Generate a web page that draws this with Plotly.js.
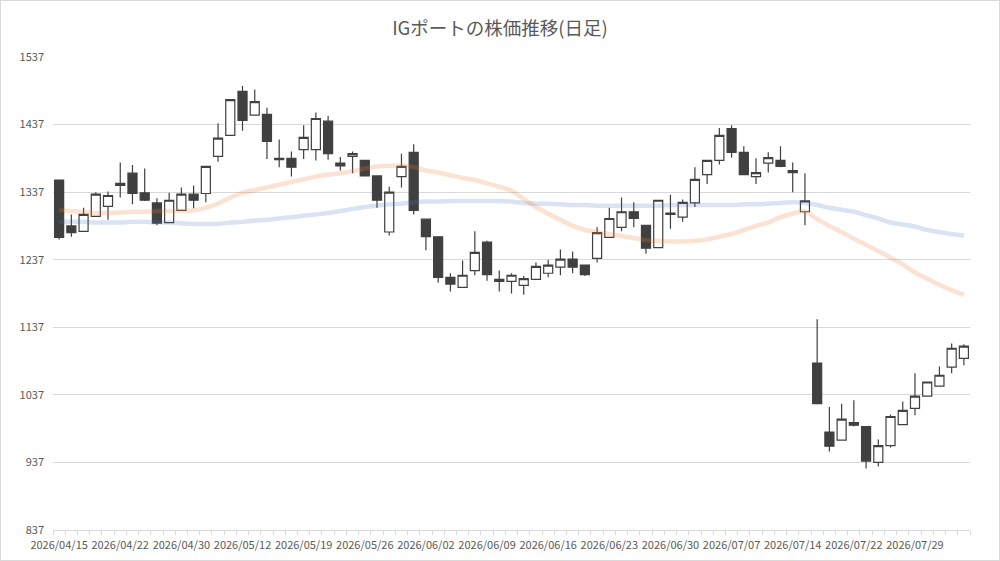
<!DOCTYPE html>
<html>
<head>
<meta charset="utf-8">
<script src="https://cdn.plot.ly/plotly-3.0.1.min.js"></script>
<style>
  html, body { margin: 0; padding: 0; background: #fff; }
  #chart { width: 998px; height: 559px; border: 1px solid #d9d9d9; }
</style>
</head>
<body>
<div id="chart"></div>
<script>
// ---- data ----
const dates = [
  "2026/04/15","2026/04/16","2026/04/17","2026/04/20","2026/04/21","2026/04/22","2026/04/23","2026/04/24","2026/04/27","2026/04/28",
  "2026/04/30","2026/05/01","2026/05/07","2026/05/08","2026/05/11","2026/05/12","2026/05/13","2026/05/14","2026/05/15","2026/05/18",
  "2026/05/19","2026/05/20","2026/05/21","2026/05/22","2026/05/25","2026/05/26","2026/05/27","2026/05/28","2026/05/29","2026/06/01",
  "2026/06/02","2026/06/03","2026/06/04","2026/06/05","2026/06/08","2026/06/09","2026/06/10","2026/06/11","2026/06/12","2026/06/15",
  "2026/06/16","2026/06/17","2026/06/18","2026/06/19","2026/06/22","2026/06/23","2026/06/24","2026/06/25","2026/06/26","2026/06/29",
  "2026/06/30","2026/07/01","2026/07/02","2026/07/03","2026/07/06","2026/07/07","2026/07/08","2026/07/09","2026/07/10","2026/07/13",
  "2026/07/14","2026/07/15","2026/07/16","2026/07/17","2026/07/21","2026/07/22","2026/07/23","2026/07/24","2026/07/27","2026/07/28",
  "2026/07/29","2026/07/30","2026/07/31","2026/08/03","2026/08/04"
];

const openP = [
  1355,1287,1279,1301,1316,1350,1365,1336,1321,1292,
  1310,1334,1335,1390,1421,1486,1451,1452,1387,1387,
  1400,1400,1442,1380,1390,1384,1361,1278,1360,1396,
  1297,1271,1211,1196,1221,1263,1208,1205,1199,1208,
  1217,1226,1238,1229,1239,1270,1285,1308,1288,1255,
  1304,1300,1321,1363,1384,1431,1396,1360,1380,1384,
  1369,1308,1084,982,970,996,990,937,962,993,
  1017,1035,1050,1078,1091
];
const highP = [
  1355,1304,1314,1337,1338,1381,1377,1372,1328,1336,
  1344,1347,1375,1439,1474,1494,1489,1462,1415,1397,
  1436,1455,1450,1389,1397,1384,1361,1345,1394,1408,
  1297,1271,1217,1236,1279,1265,1221,1217,1213,1233,
  1237,1252,1249,1229,1285,1314,1329,1322,1288,1325,
  1333,1326,1374,1384,1432,1436,1405,1387,1396,1405,
  1381,1365,1149,1019,1024,1029,990,971,1008,1027,
  1069,1056,1079,1113,1112
];
const lowP = [
  1267,1271,1279,1301,1296,1329,1319,1324,1288,1292,
  1310,1313,1322,1382,1421,1428,1451,1386,1374,1360,
  1386,1384,1385,1369,1365,1360,1314,1273,1344,1304,
  1251,1203,1190,1196,1214,1206,1190,1187,1185,1208,
  1211,1214,1217,1213,1233,1270,1279,1285,1246,1255,
  1283,1293,1315,1349,1378,1388,1363,1349,1366,1374,
  1337,1288,1024,953,970,990,928,931,959,993,
  1007,1035,1050,1069,1081
];
const closeP = [
  1270,1277,1304,1334,1332,1347,1335,1325,1291,1325,
  1334,1325,1375,1417,1474,1443,1471,1412,1385,1374,
  1418,1446,1394,1376,1394,1361,1325,1337,1375,1310,
  1271,1211,1201,1214,1248,1215,1205,1214,1209,1227,
  1229,1238,1226,1215,1277,1298,1308,1298,1254,1325,
  1306,1322,1356,1384,1421,1396,1363,1366,1388,1375,
  1366,1324,1024,961,1001,992,939,962,1005,1014,
  1035,1056,1066,1106,1109
];
// moving averages (short = orange, long = blue)
const maShort = [
  1311,1309,1308,1306,1306,1307,1308,1308,1309,1309,
  1309,1310,1314,1320,1329,1336,1340,1344,1348,1352,
  1356,1360,1363,1365,1368,1372,1375,1376,1376,1374,
  1369,1366,1362,1358,1355,1350,1345,1339,1327,1315,
  1305,1296,1287,1281,1278,1275,1272,1269,1266,1265,
  1264,1264,1265,1267,1271,1275,1281,1287,1292,1300,
  1305,1309,1297,1287,1278,1268,1259,1250,1240,1230,
  1218,1209,1200,1192,1185
];
const maLong = [
  1293,1293,1293,1292,1292,1292,1293,1293,1292,1292,
  1291,1290,1290,1290,1292,1293,1295,1296,1298,1300,
  1302,1304,1306,1309,1312,1315,1317,1319,1320,1322,
  1323,1323,1324,1324,1324,1324,1324,1323,1321,1320,
  1320,1319,1318,1318,1317,1317,1317,1317,1317,1317,
  1318,1318,1318,1318,1318,1318,1319,1319,1320,1321,
  1322,1321,1318,1314,1311,1308,1303,1298,1292,1289,
  1286,1281,1278,1275,1273
];
const tickDates = [
  "2026/04/15","2026/04/22","2026/04/30","2026/05/12","2026/05/19","2026/05/26","2026/06/02","2026/06/09",
  "2026/06/16","2026/06/23","2026/06/30","2026/07/07","2026/07/14","2026/07/22","2026/07/29"
];
const yTicks = [837, 937, 1037, 1137, 1237, 1337, 1437, 1537];
const chartTitle = "IGポートの株価推移(日足)";

// ---- chart ----
const xIdx = dates.map((d, i) => i);
const font = '"Noto Sans CJK JP", "Noto Sans", sans-serif';
const ink = '#404040';

const traces = [
  {
    type: 'scatter', mode: 'lines', x: xIdx, y: maLong, name: '長期',
    line: { color: 'rgba(68,114,196,0.2)', width: 4.5, shape: 'spline', smoothing: 0.6 },
    hoverinfo: 'skip'
  },
  {
    type: 'scatter', mode: 'lines', x: xIdx, y: maShort, name: '短期',
    line: { color: 'rgba(237,125,49,0.22)', width: 4.5, shape: 'spline', smoothing: 0.6 },
    hoverinfo: 'skip'
  },
  {
    type: 'candlestick', x: xIdx, open: openP, high: highP, low: lowP, close: closeP,
    name: '株価', whiskerwidth: 0,
    increasing: { line: { color: ink, width: 1.2 }, fillcolor: '#ffffff' },
    decreasing: { line: { color: ink, width: 1.2 }, fillcolor: ink }
  }
];

const layout = {
  width: 998, height: 559,
  margin: { l: 52, r: 29, t: 56, b: 30 },
  paper_bgcolor: '#ffffff', plot_bgcolor: '#ffffff',
  showlegend: false,
  boxgap: 0.26, boxgroupgap: 0,
  font: { family: font, color: '#595959', size: 11 },
  title: {
    text: chartTitle, x: 0.5, xanchor: 'center', y: 0.95, yanchor: 'middle',
    font: { family: font, size: 18.5, color: '#595959' }
  },
  xaxis: {
    type: 'linear', range: [-0.5, dates.length - 0.5],
    tickmode: 'array',
    tickvals: tickDates.map(d => dates.indexOf(d)),
    ticktext: tickDates,
    ticks: '', showgrid: false, zeroline: false,
    showline: true, linecolor: '#d9d9d9', linewidth: 1,
    ticklabelstandoff: 5,
    tickfont: { family: font, size: 11, color: '#595959' },
    minor: { ticks: 'outside', ticklen: 4, tickcolor: '#d9d9d9', tickwidth: 1, tick0: -0.5, dtick: 1, showgrid: false },
    rangeslider: { visible: false },
    fixedrange: true
  },
  yaxis: {
    range: [837, 1537], tickmode: 'array', tickvals: yTicks, ticktext: yTicks.map(String),
    showgrid: true, gridcolor: '#d9d9d9', gridwidth: 1,
    zeroline: false, showline: false, ticks: '',
    ticklabelstandoff: 8,
    tickfont: { family: font, size: 11, color: '#595959' },
    fixedrange: true
  }
};

Plotly.newPlot('chart', traces, layout, { staticPlot: true, displayModeBar: false });
</script>
</body>
</html>
